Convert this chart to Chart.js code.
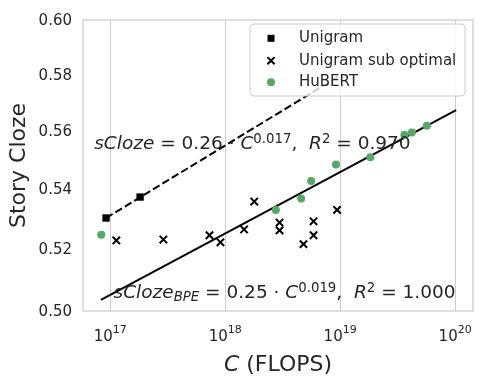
<!DOCTYPE html>
<html>
<head>
<meta charset="utf-8">
<script src="https://cdn.jsdelivr.net/npm/chart.js@4/dist/chart.umd.min.js"></script>
<style>
  html, body { margin: 0; padding: 0; background: #fff; }
  #wrap { width: 483px; height: 384px; }
</style>
</head>
<body>
<div id="wrap"><canvas id="scalingChart" width="483" height="384"></canvas></div>
<script>
// values
const unigramFlops = [9.2e16, 1.82e17];
const unigramScore = [0.530, 0.537];

const subFlops = [1.13e17, 2.9e17, 7.3e17, 9.1e17, 1.46e18, 1.79e18, 2.97e18, 2.97e18, 4.8e18, 5.87e18, 5.87e18, 9.4e18];
const subScore = [0.5226, 0.5229, 0.5243, 0.5220, 0.5262, 0.5355, 0.5285, 0.5259, 0.5214, 0.5289, 0.5243, 0.5327];

const hubertFlops = [8.36e16, 2.76e18, 4.58e18, 5.6e18, 9.2e18, 1.83e19, 3.62e19, 4.2e19, 5.67e19];
const hubertScore = [0.5245, 0.5327, 0.5365, 0.5424, 0.5481, 0.5506, 0.5584, 0.5592, 0.5615];

// fitted power-law lines (end points)
const fitFlops = [9.2e16, 1e19];
const fitScore = [0.530, 0.5795];
const bpeFitFlops = [8.3e16, 1.02e20];
const bpeFitScore = [0.5035, 0.5671];

const xTicks = [1e17, 1e18, 1e19, 1e20];
const xTickExp = ["17", "18", "19", "20"];
const yTicks = [0.50, 0.52, 0.54, 0.56, 0.58, 0.60];

const legendLabels = ["Unigram", "Unigram sub optimal", "HuBERT"];

const TEXT = "#262626";
const GRID = "#cccccc";
const GREEN = "#55a868";
const FONT = "DejaVu Sans";

const pts = (xs, ys) => xs.map((x, i) => ({ x: x, y: ys[i] }));

// mathtext-ish pieces: t text, i italic, s = 'sup' | 'sub'
function drawMath(ctx, x, y, size, parts) {
    ctx.save();
    ctx.fillStyle = TEXT;
    ctx.textBaseline = "alphabetic";
    ctx.textAlign = "left";
    parts.forEach(p => {
        let fs = size, dy = 0;
        if (p.s === "sup") { fs = size * 0.72; dy = -size * 0.33; }
        if (p.s === "sub") { fs = size * 0.72; dy = size * 0.2; }
        ctx.font = (p.i ? "italic " : "") + fs + "px '" + FONT + "'";
        ctx.fillText(p.t, x, y + dy);
        x += ctx.measureText(p.t).width;
    });
    ctx.restore();
}

const annotations = [
    {
        x: 7.26e16, y: 0.5535,
        parts: [
            { t: "sCloze", i: true }, { t: " = 0.26 \u00b7 " }, { t: "C", i: true },
            { t: "0.017", s: "sup" }, { t: ",  " }, { t: "R", i: true }, { t: "2", s: "sup" },
            { t: " = 0.970" }
        ]
    },
    {
        x: 1.069e17, y: 0.5042,
        parts: [
            { t: "sCloze", i: true }, { t: "BPE", i: true, s: "sub" }, { t: " = 0.25 \u00b7 " },
            { t: "C", i: true }, { t: "0.019", s: "sup" }, { t: ",  " }, { t: "R", i: true },
            { t: "2", s: "sup" }, { t: " = 1.000" }
        ]
    }
];

const decorPlugin = {
    id: "decor",
    beforeDatasetsDraw(chart) {
        const { ctx, chartArea: a } = chart;
        ctx.save();
        ctx.strokeStyle = GRID;
        ctx.lineWidth = 1.25;
        ctx.strokeRect(a.left, a.top, a.right - a.left, a.bottom - a.top);
        ctx.restore();
    },
    afterDatasetsDraw(chart) {
        const { ctx, scales } = chart;
        const xs = scales.x, ys = scales.y;

        // annotations
        annotations.forEach(an => {
            drawMath(ctx, xs.getPixelForValue(an.x), ys.getPixelForValue(an.y), 18.5, an.parts);
        });

        // x tick labels 10^n
        ctx.save();
        ctx.fillStyle = TEXT;
        ctx.textBaseline = "alphabetic";
        xTicks.forEach((v, i) => {
            const px = xs.getPixelForValue(v);
            ctx.font = "15px '" + FONT + "'";
            const w1 = ctx.measureText("10").width;
            ctx.font = "11px '" + FONT + "'";
            const w2 = ctx.measureText(xTickExp[i]).width;
            const x0 = px - (w1 + w2) / 2;
            ctx.font = "15px '" + FONT + "'";
            ctx.fillText("10", x0, 341);
            ctx.font = "11px '" + FONT + "'";
            ctx.fillText(xTickExp[i], x0 + w1, 333);
        });
        ctx.restore();

        // x axis title
        const cx = (chart.chartArea.left + chart.chartArea.right) / 2;
        ctx.save();
        ctx.font = "italic 22px '" + FONT + "'";
        const wc = ctx.measureText("C").width;
        ctx.font = "22px '" + FONT + "'";
        const wr = ctx.measureText(" (FLOPS)").width;
        drawMath(ctx, cx - (wc + wr) / 2, 371, 22, [{ t: "C", i: true }, { t: " (FLOPS)" }]);
        ctx.restore();

        // legend
        const lx = 250, ly = 24, lw = 215, lh = 72;
        ctx.save();
        ctx.beginPath();
        ctx.roundRect(lx, ly, lw, lh, 4);
        ctx.fillStyle = "rgba(255,255,255,0.8)";
        ctx.fill();
        ctx.strokeStyle = GRID;
        ctx.lineWidth = 1;
        ctx.stroke();
        const rows = [38.3, 60.7, 82.3];
        ctx.fillStyle = "#000";
        ctx.fillRect(271 - 3.5, rows[0] - 3.5, 7, 7);
        ctx.strokeStyle = "#000";
        ctx.lineWidth = 2;
        ctx.beginPath();
        ctx.moveTo(271 - 3.6, rows[1] - 3.6); ctx.lineTo(271 + 3.6, rows[1] + 3.6);
        ctx.moveTo(271 - 3.6, rows[1] + 3.6); ctx.lineTo(271 + 3.6, rows[1] - 3.6);
        ctx.stroke();
        ctx.fillStyle = GREEN;
        ctx.beginPath();
        ctx.arc(271, rows[2], 4, 0, Math.PI * 2);
        ctx.fill();
        ctx.fillStyle = TEXT;
        ctx.font = "15px '" + FONT + "'";
        ctx.textBaseline = "middle";
        legendLabels.forEach((t, i) => ctx.fillText(t, 299, rows[i]));
        ctx.restore();
    }
};

Chart.defaults.font.family = FONT;
Chart.defaults.color = TEXT;

new Chart("scalingChart", {
    type: "scatter",
    data: {
        datasets: [
            {
                label: legendLabels[0],
                data: pts(unigramFlops, unigramScore),
                pointStyle: "rect",
                pointRadius: 5.2,
                backgroundColor: "#000",
                borderColor: "#000",
                borderWidth: 0,
                order: 1
            },
            {
                label: legendLabels[1],
                data: pts(subFlops, subScore),
                pointStyle: "crossRot",
                pointRadius: 5.2,
                borderColor: "#000",
                borderWidth: 2,
                order: 2
            },
            {
                label: legendLabels[2],
                data: pts(hubertFlops, hubertScore),
                pointStyle: "circle",
                pointRadius: 4,
                backgroundColor: GREEN,
                borderWidth: 0,
                order: 0
            },
            {
                type: "line",
                label: "fit",
                data: pts(fitFlops, fitScore),
                borderColor: "#000",
                borderWidth: 2,
                borderDash: [7.7, 3.3],
                pointRadius: 0,
                fill: false,
                order: 10
            },
            {
                type: "line",
                label: "fit BPE",
                data: pts(bpeFitFlops, bpeFitScore),
                borderColor: "#000",
                borderWidth: 2,
                pointRadius: 0,
                fill: false,
                order: 10
            }
        ]
    },
    options: {
        responsive: false,
        animation: false,
        devicePixelRatio: 1,
        layout: { padding: { left: 0, top: 16, right: 10, bottom: 0 } },
        plugins: {
            legend: { display: false },
            tooltip: { enabled: false }
        },
        scales: {
            x: {
                type: "logarithmic",
                min: 5.8e16,
                max: 1.43e20,
                afterBuildTicks: s => { s.ticks = xTicks.map(v => ({ value: v })); },
                afterFit: s => { s.height = 73; },
                ticks: { display: false },
                grid: { color: GRID, lineWidth: 1, drawTicks: false },
                border: { display: false }
            },
            y: {
                type: "logarithmic",
                min: 0.5,
                max: 0.6,
                afterBuildTicks: s => { s.ticks = yTicks.map(v => ({ value: v })); },
                afterFit: s => { s.width = 83; },
                ticks: {
                    font: { size: 15 },
                    color: TEXT,
                    padding: 11,
                    labelOffset: 1.5,
                    callback: v => Number(v).toFixed(2)
                },
                grid: { display: false, drawTicks: false },
                border: { display: false },
                title: {
                    display: true,
                    text: "Story Cloze",
                    font: { size: 22 },
                    color: TEXT,
                    padding: { top: 6, bottom: 0 }
                }
            }
        }
    },
    plugins: [decorPlugin]
});
</script>
</body>
</html>
